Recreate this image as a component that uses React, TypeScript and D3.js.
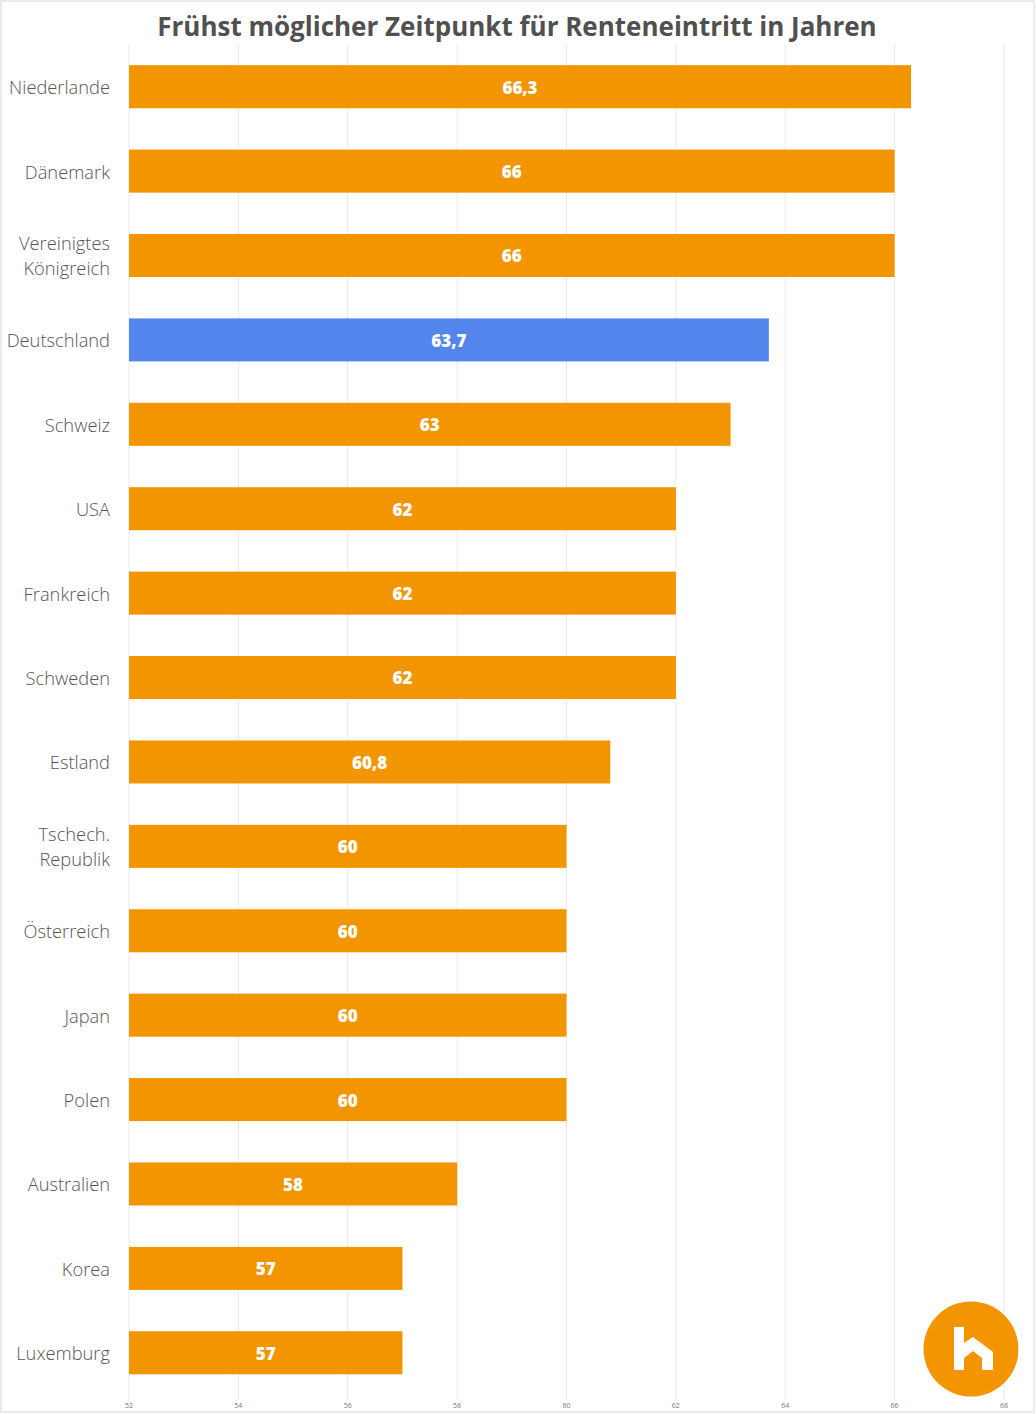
import React, { useEffect } from "react";
import * as d3 from "d3";

const countries: string[][] = [
  ["Niederlande"],
  ["Dänemark"],
  ["Vereinigtes", "Königreich"],
  ["Deutschland"],
  ["Schweiz"],
  ["USA"],
  ["Frankreich"],
  ["Schweden"],
  ["Estland"],
  ["Tschech.", "Republik"],
  ["Österreich"],
  ["Japan"],
  ["Polen"],
  ["Australien"],
  ["Korea"],
  ["Luxemburg"],
];
const values: number[] = [66.3, 66, 66, 63.7, 63, 62, 62, 62, 60.8, 60, 60, 60, 60, 58, 57, 57];
const highlight = "Deutschland";
const ticks: number[] = [52, 54, 56, 58, 60, 62, 64, 66, 68];
const title = "Frühst möglicher Zeitpunkt für Renteneintritt in Jahren";

const W = 1036;
const H = 1414;
const FONT = "'Open Sans', sans-serif";

export default function App() {
  useEffect(() => {
    document.body.style.margin = "0";
  }, []);
  const x = d3.scaleLinear().domain([52, 68]).range([129, 1004]);
  const keys = countries.map((c) => c.join(" "));
  const y = d3.scaleBand<string>().domain(keys).range([44.5, 1395]).paddingInner(0.49).paddingOuter(0.245);
  const fmt = (v: number) => String(v).replace(".", ",");
  return (
    <svg width={W} height={H} style={{ display: "block", background: "#fff" }} fontFamily={FONT}>
      <rect x={1} y={1} width={W - 3} height={H - 3} fill="#fff" stroke="#e4e4e4" strokeWidth={1.5} />
      <text x={517} y={36} textAnchor="middle" fontSize={26} fontWeight={700} fill="#505050">
        {title}
      </text>
      {ticks.map((t) => (
        <g key={t}>
          <line x1={x(t)} x2={x(t)} y1={44} y2={1400} stroke="#e8e8e8" strokeWidth={1} />
          <text x={x(t)} y={1408} textAnchor="middle" fontSize={7} fill="#777">
            {t}
          </text>
        </g>
      ))}
      {countries.map((c, i) => {
        const k = keys[i];
        const y0 = y(k)!;
        const bw = y.bandwidth();
        const cy = y0 + bw / 2;
        const v = values[i];
        return (
          <g key={k}>
            <rect
              x={x(52)}
              y={y0}
              width={x(v) - x(52)}
              height={bw}
              fill={k === highlight ? "#5385EC" : "#F39500"}
            />
            <text
              x={(x(52) + x(v)) / 2}
              y={cy + 1}
              dy="0.35em"
              textAnchor="middle"
              fontSize={17}
              fontWeight={800}
              fill="#fff"
            >
              {fmt(v)}
            </text>
            <text x={110} y={cy + 1} textAnchor="end" fontSize={18.3} fontWeight={300} fill="#555">
              {c.map((line, j) => (
                <tspan key={j} x={110} dy={j === 0 ? `${0.35 - ((c.length - 1) * 1.37) / 2}em` : "1.37em"}>
                  {line}
                </tspan>
              ))}
            </text>
          </g>
        );
      })}
      <g>
        <circle cx={971} cy={1349} r={47.5} fill="#F39500" />
        <path
          d="M954,1327 L964,1327 L964,1343 L973,1337 L993,1352 L993,1370 L982,1370 L982,1358 L973,1351 L964,1358 L964,1370 L954,1370 Z"
          fill="#fff"
        />
      </g>
    </svg>
  );
}
